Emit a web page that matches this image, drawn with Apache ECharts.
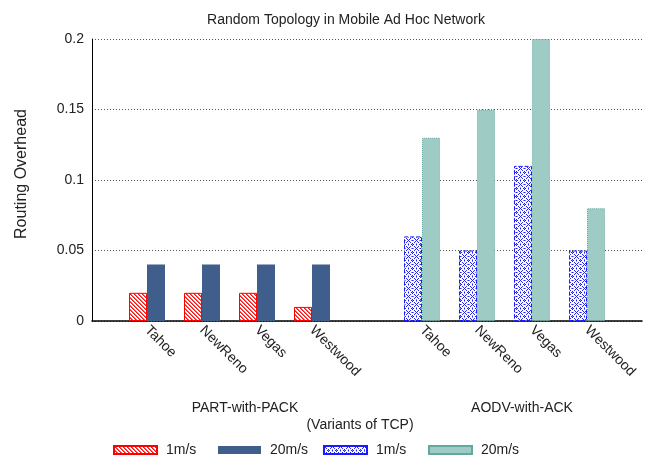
<!DOCTYPE html>
<html>
<head>
<meta charset="utf-8">
<script src="https://cdn.jsdelivr.net/npm/echarts@6/dist/echarts.min.js"></script>
<style>html,body{margin:0;padding:0;background:#fff}#c{width:645px;height:460px}</style>
</head>
<body>
<div id="c"></div>
<script>
var variants = ['Tahoe', 'NewReno', 'Vegas', 'Westwood'];
var partSlow = [0.02, 0.02, 0.02, 0.01];
var partFast = [0.04, 0.04, 0.04, 0.04];
var aodvSlow = [0.06, 0.05, 0.11, 0.05];
var aodvFast = [0.13, 0.15, 0.2, 0.08];
var yTicks = [0, 0.05, 0.1, 0.15, 0.2];
var seriesNames = ['1m/s', '20m/s', '1m/s', '20m/s'];
var groupNames = ['PART-with-PACK', 'AODV-with-ACK'];

// category layout: blank, group1 (4), blank, group2 (4), blank
var categories = [''].concat(variants, [''], variants, ['']);
function groupData(vals, group) {
  var arr = categories.map(function () { return null; });
  var start = group === 0 ? 1 : 6;
  vals.forEach(function (v, i) { arr[start + i] = v; });
  return arr;
}

function makeTile(size, draw) {
  var c = document.createElement('canvas');
  c.width = size; c.height = size;
  var ctx = c.getContext('2d');
  ctx.fillStyle = '#fff';
  ctx.fillRect(0, 0, size, size);
  draw(ctx, size);
  return c;
}
var hatch = makeTile(4, function (ctx, s) {
  for (var x = 0; x < s; x++) for (var y = 0; y < s; y++) {
    var d = ((x - y) % s + s) % s;
    if (d === 0) { ctx.fillStyle = '#ff1010'; ctx.fillRect(x, y, 1, 1); }
    else if (d === 1) { ctx.fillStyle = '#ff6060'; ctx.fillRect(x, y, 1, 1); }
  }
});
var ornament = makeTile(8, function (ctx, s) {
  ctx.fillStyle = '#2020ff';
  var pts = [[0,0],[1,1],[2,2],[6,6],[7,7],[6,2],[2,6],[7,1],[1,7],[4,0],[0,4],[4,3],[3,4],[5,4],[4,5]];
  pts.forEach(function (p) { ctx.fillRect(p[0], p[1], 1, 1); });
  ctx.fillStyle = '#8080ff';
  [[4,4],[3,0],[5,0],[0,3],[0,5]].forEach(function (p) { ctx.fillRect(p[0], p[1], 1, 1); });
});

var styles = [
  { color: { image: hatch, repeat: 'repeat' }, borderColor: '#ff0000', borderWidth: 1 },
  { color: '#3f5e8c', borderWidth: 0 },
  { color: { image: ornament, repeat: 'repeat' }, borderColor: '#1a1aff', borderWidth: 1, borderType: 'dashed' },
  { color: '#9ecbc4', borderColor: '#62a8a0', borderWidth: 1, borderType: 'dotted' }
];

var font = 'Liberation Sans, Arial, sans-serif';
var chart = echarts.init(document.getElementById('c'), null, { renderer: 'canvas' });

var xBase = {
  type: 'category',
  data: categories,
  boundaryGap: false
};

var legendLefts = [113, 218, 323, 428];
var legends = legendLefts.map(function (l, i) {
  return {
    left: l, top: 443, padding: 0,
    itemWidth: 43, itemHeight: 8, itemGap: 0,
    selectedMode: false,
    icon: 'rect',
    textStyle: { fontFamily: font, fontSize: 14, color: '#222', padding: [0, 0, 0, 4] },
    data: [{ name: 's' + i }],
    formatter: function (n) { return seriesNames[+n.slice(1)]; }
  };
});

chart.setOption({
  animation: false,
  backgroundColor: '#fff',
  title: {
    text: 'Random Topology in Mobile Ad Hoc Network',
    left: 341, textAlign: 'center', top: 8,
    textStyle: { fontFamily: font, fontSize: 14, fontWeight: 'normal', color: '#222' }
  },
  grid: { left: 92, right: 3, top: 39, bottom: 139 },
  legend: legends,
  xAxis: [
    Object.assign({}, xBase, {
      axisLine: { show: true, lineStyle: { color: '#000', width: 1.5 } },
      axisTick: { show: false },
      splitLine: { show: false },
      axisLabel: {
        interval: 0, rotate: -45, margin: 7,
        fontFamily: font, fontSize: 14, color: '#222'
      }
    }),
    Object.assign({}, xBase, { show: false })
  ],
  yAxis: {
    type: 'value', min: 0, max: 0.2, interval: 0.05,
    axisLine: { show: true, lineStyle: { color: '#000', width: 1 } },
    axisTick: { show: false },
    axisLabel: {
      fontFamily: font, fontSize: 14, color: '#222', margin: 8,
      formatter: function (v) {
        for (var i = 0; i < yTicks.length; i++) if (Math.abs(yTicks[i] - v) < 1e-9) return String(yTicks[i]);
        return '';
      }
    },
    splitLine: { show: true, lineStyle: { color: '#555', type: [1, 2], width: 1 } }
  },
  graphic: [
    { type: 'text', x: 22, y: 174, rotation: Math.PI / 2, style: { text: 'Routing Overhead', font: '16px ' + font, fill: '#222', align: 'center', verticalAlign: 'middle' } },
    { type: 'text', x: 245, y: 408, style: { text: groupNames[0], font: '14px ' + font, fill: '#222', align: 'center', verticalAlign: 'middle' } },
    { type: 'text', x: 522, y: 408, style: { text: groupNames[1], font: '14px ' + font, fill: '#222', align: 'center', verticalAlign: 'middle' } },
    { type: 'text', x: 360, y: 425, style: { text: '(Variants of TCP)', font: '14px ' + font, fill: '#222', align: 'center', verticalAlign: 'middle' } }
  ],
  series: [
    { name: 's0', type: 'bar', xAxisIndex: 0, barWidth: 18, barGap: '0%', data: groupData(partSlow, 0), itemStyle: styles[0] },
    { name: 's1', type: 'bar', xAxisIndex: 0, barWidth: 18, barGap: '0%', data: groupData(partFast, 0), itemStyle: styles[1] },
    { name: 's2', type: 'bar', xAxisIndex: 1, barWidth: 18, barGap: '0%', data: groupData(aodvSlow, 1), itemStyle: styles[2] },
    { name: 's3', type: 'bar', xAxisIndex: 1, barWidth: 18, barGap: '0%', data: groupData(aodvFast, 1), itemStyle: styles[3] }
  ]
});
</script>
</body>
</html>
